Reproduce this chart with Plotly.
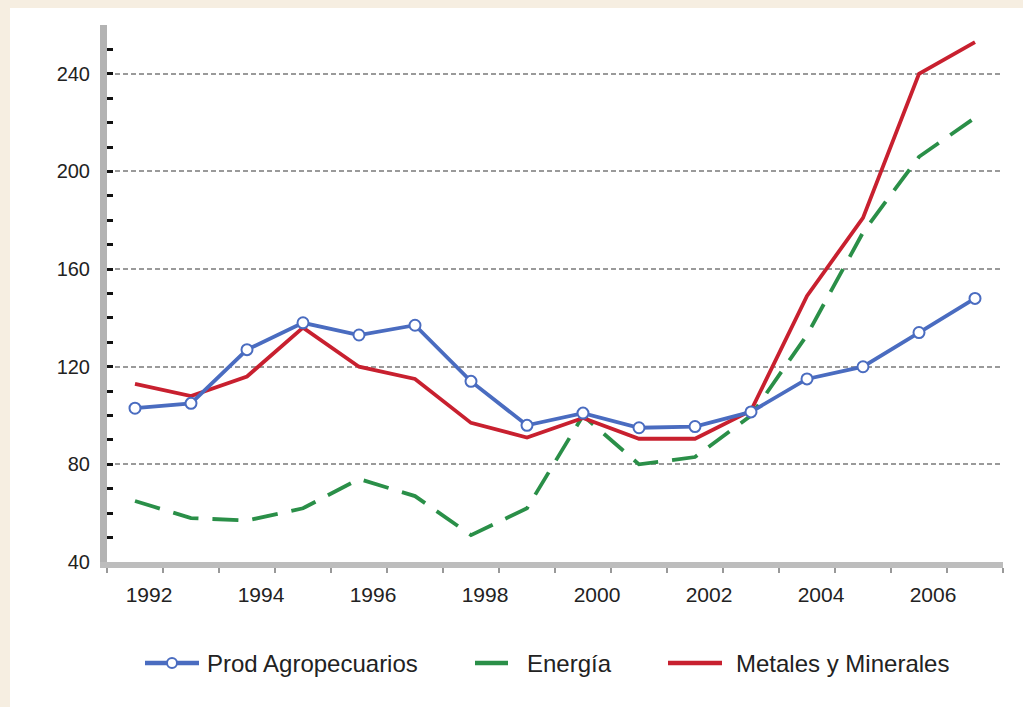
import plotly.graph_objects as go

years = list(range(1992, 2008))
prod_agro = [103, 105, 127, 138, 133, 137, 114, 96, 101, 95, 95.5, 101.5, 115, 120, 134, 148]
energia = [65, 58, 57, 62, 74, 67, 51, 62, 100, 80, 83, 100, 133, 175, 206, 222]
metales = [113, 108, 116, 136, 120, 115, 97, 91, 99, 90.5, 90.5, 102, 149, 181, 240, 253]
label_years = [1992, 1994, 1996, 1998, 2000, 2002, 2004, 2006]
y_ticks = [40, 80, 120, 160, 200, 240]
series_names = ["Prod Agropecuarios", "Energía", "Metales y Minerales"]

BLUE = "#4a6cc0"
GREEN = "#2a8f48"
RED = "#c8202f"
BEIGE = "#f6eee1"
FONT = "Liberation Sans, Arial, sans-serif"

# page-pixel layout of the plot area
PL, PR, PT, PB = 107, 1003, 25, 562
W, H = 1023, 707

def px(x):
    return (x - PL) / (PR - PL)

def py(y):
    return (PB - y) / (PB - PT)

fig = go.Figure()
fig.add_trace(go.Scatter(
    x=years, y=energia, name=series_names[1], mode="lines",
    line=dict(color=GREEN, width=3.8, dash="26px,14px"),
))
fig.add_trace(go.Scatter(
    x=years, y=metales, name=series_names[2], mode="lines",
    line=dict(color=RED, width=3.8),
))
fig.add_trace(go.Scatter(
    x=years, y=prod_agro, name=series_names[0], mode="lines+markers",
    line=dict(color=BLUE, width=3.8),
    marker=dict(symbol="circle", size=11, color="white", line=dict(color=BLUE, width=2)),
))

shapes = [dict(
    type="rect", xref="paper", yref="paper",
    x0=px(10), x1=px(1040), y0=py(720), y1=py(8),
    fillcolor="white", line=dict(width=0), layer="below",
)]
annotations = []
LEG_Y = 663
legend_items = [
    (series_names[0], BLUE, 145, 199, 205, True),
    (series_names[1], GREEN, 475, 508, 525, False),
    (series_names[2], RED, 668, 722, 734, False),
]
for name, col, x0, x1, tx, mk in legend_items:
    shapes.append(dict(type="line", xref="paper", yref="paper",
                       x0=px(x0), x1=px(x1), y0=py(LEG_Y), y1=py(LEG_Y),
                       line=dict(color=col, width=4.5)))
    if mk:
        cx = (x0 + x1) / 2
        shapes.append(dict(type="circle", xref="paper", yref="paper",
                           x0=px(cx - 5), x1=px(cx + 5), y0=py(LEG_Y + 5), y1=py(LEG_Y - 5),
                           fillcolor="white", line=dict(color=col, width=2)))
    annotations.append(dict(text=name, xref="paper", yref="paper",
                            x=px(tx), y=py(LEG_Y), xanchor="left", yanchor="middle",
                            showarrow=False,
                            font=dict(family=FONT, size=24, color="#222222")))

fig.update_layout(
    width=W, height=H,
    margin=dict(l=PL, r=W - PR, t=PT, b=H - PB),
    paper_bgcolor=BEIGE,
    plot_bgcolor="white",
    font=dict(family=FONT, size=20, color="#222222"),
    showlegend=False,
    shapes=shapes,
    annotations=annotations,
)

fig.update_xaxes(
    range=[1991.5, 2007.5],
    tickmode="array", tickvals=label_years, ticktext=[str(y) for y in label_years],
    ticks="", ticklabelshift=14, ticklabelstandoff=9,
    showgrid=False, zeroline=False,
    showline=True, linecolor="#bdbdbd", linewidth=6,
    minor=dict(tickmode="linear", tick0=1991.5, dtick=1, ticks="outside",
               ticklen=5, tickwidth=2, tickcolor="#999999", showgrid=False),
    tickfont=dict(family=FONT, size=21, color="#222222"),
)
fig.update_yaxes(
    range=[40, 260],
    tickmode="array", tickvals=y_ticks,
    ticks="inside", ticklen=6, tickwidth=3, tickcolor="#111111",
    showgrid=True, gridcolor="#9a9a9a", gridwidth=2, griddash="5px,3px",
    zeroline=False,
    showline=True, linecolor="#b3b3b3", linewidth=7,
    minor=dict(tickmode="linear", tick0=40, dtick=10, ticks="inside",
               ticklen=6, tickwidth=3, tickcolor="#111111", showgrid=False),
    tickfont=dict(family=FONT, size=20, color="#222222"),
    ticklabelstandoff=6,
)

fig.write_html(
    "out.html",
    config={"displayModeBar": False},
    post_script="document.body.style.margin='0px';document.body.style.background='%s';" % BEIGE,
)
